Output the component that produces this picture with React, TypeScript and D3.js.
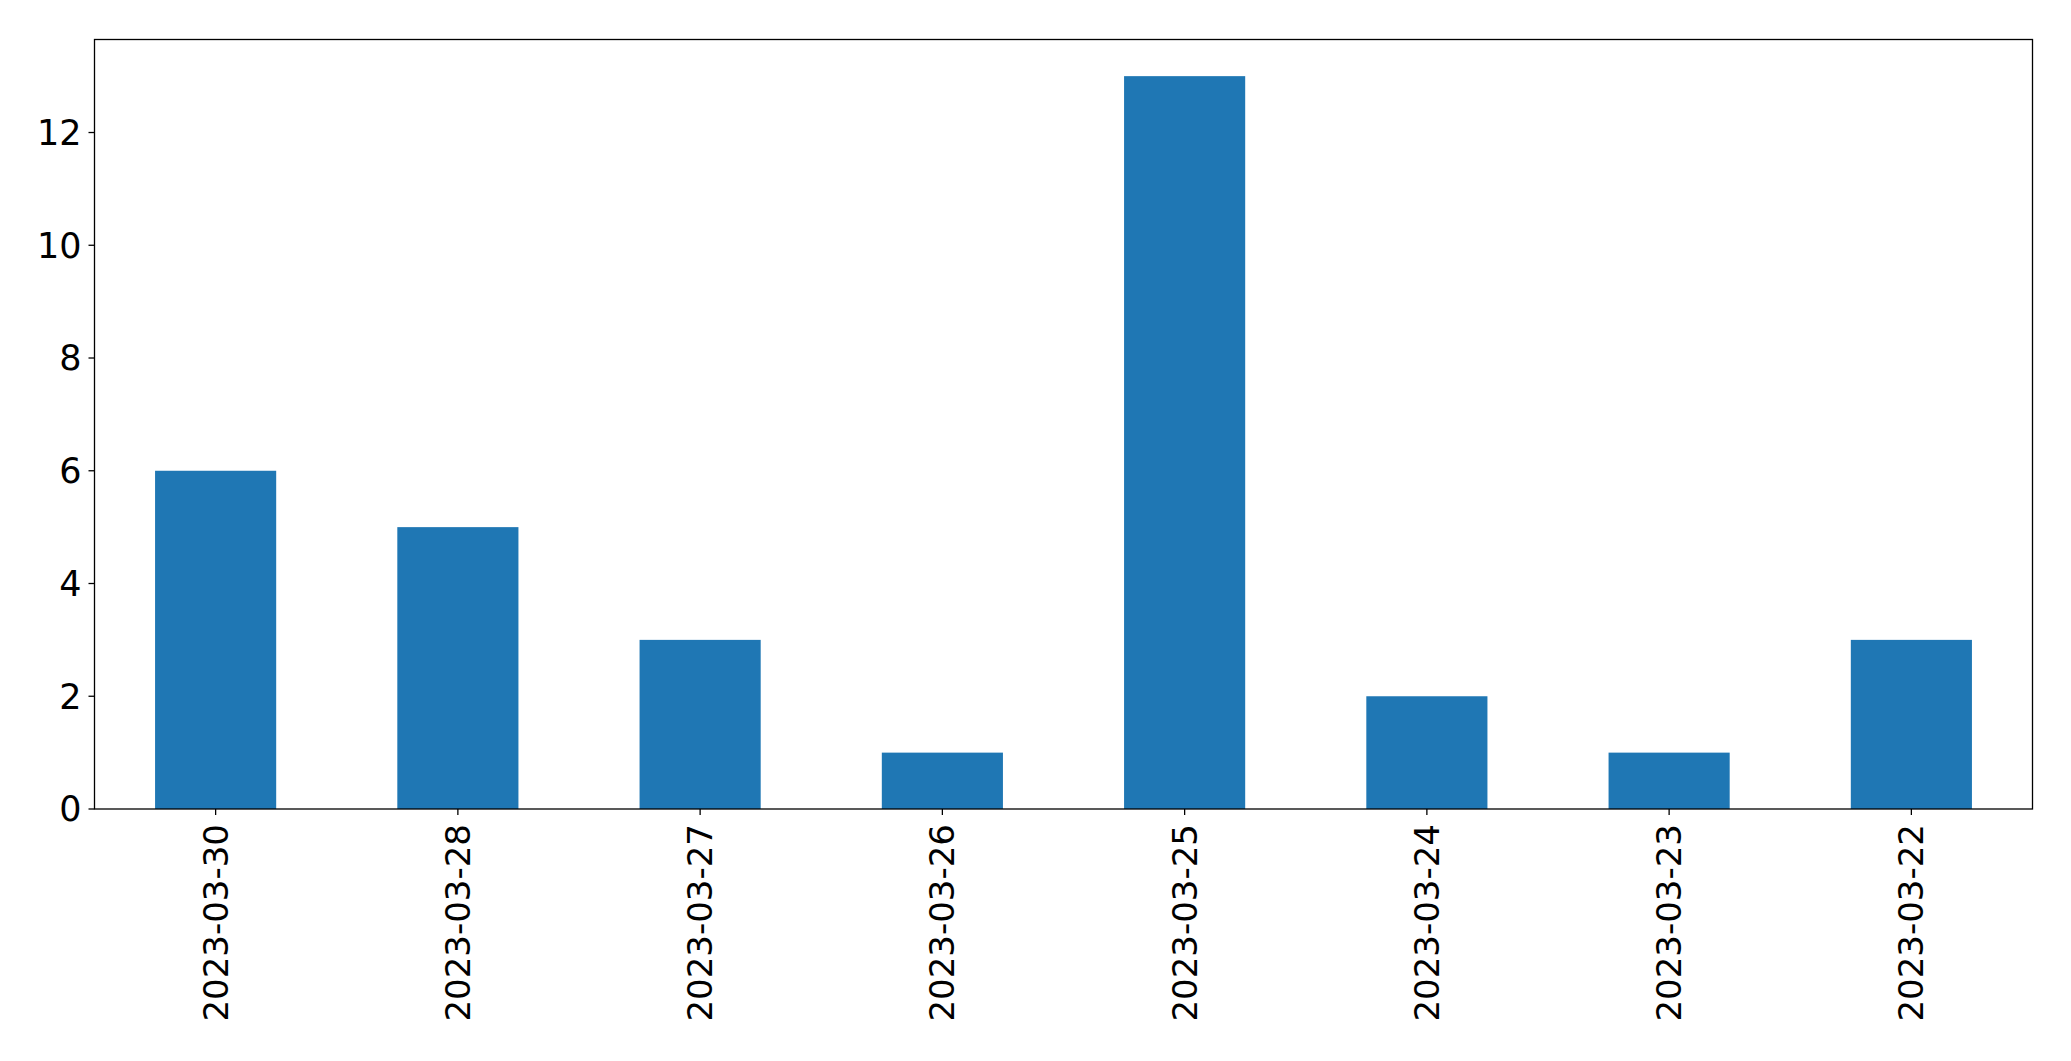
import React from "react";
import * as d3 from "d3";

const categories = ["2023-03-30", "2023-03-28", "2023-03-27", "2023-03-26", "2023-03-25", "2023-03-24", "2023-03-23", "2023-03-22"];
const values = [6, 5, 3, 1, 13, 2, 1, 3];
const yTicks = [0, 2, 4, 6, 8, 10, 12];

const W = 2071;
const H = 1061;
const M = { left: 94.5, right: 2032.5, top: 39.5, bottom: 809 };
const FONT = "DejaVu Sans, sans-serif";
const FS = 34;

export default function App() {
  const x = d3.scaleBand<string>().domain(categories).range([M.left, M.right]).paddingInner(0.5).paddingOuter(0.25);
  const yMax = d3.max(values)! * 1.05;
  const y = d3.scaleLinear().domain([0, yMax]).range([M.bottom, M.top]);
  return (
    <svg width={W} height={H} style={{ position: "absolute", left: 0, top: 0, background: "#fff" }}>
      <rect x={0} y={0} width={W} height={H} fill="#fff" />
      {categories.map((c, i) => (
        <rect key={c} x={x(c)!} width={x.bandwidth()} y={y(values[i])} height={y(0) - y(values[i])} fill="#1f77b4" />
      ))}
      <rect x={M.left} y={M.top} width={M.right - M.left} height={M.bottom - M.top} fill="none" stroke="#000" strokeWidth={1.3} />
      {yTicks.map((t) => (
        <g key={t}>
          <line x1={M.left - 6} x2={M.left} y1={y(t)} y2={y(t)} stroke="#000" strokeWidth={1.3} />
          <text x={M.left - 13} y={y(t)} dy="0.35em" textAnchor="end" fontFamily={FONT} fontSize={35} fill="#000">{t}</text>
        </g>
      ))}
      {categories.map((c) => {
        const cx = x(c)! + x.bandwidth() / 2;
        return (
          <g key={c}>
            <line x1={cx} x2={cx} y1={M.bottom} y2={M.bottom + 6} stroke="#000" strokeWidth={1.3} />
            <text transform={`translate(${cx},${M.bottom + 15}) rotate(-90)`} dy="0.35em" textAnchor="end" fontFamily={FONT} fontSize={FS} fill="#000">{c}</text>
          </g>
        );
      })}
    </svg>
  );
}
